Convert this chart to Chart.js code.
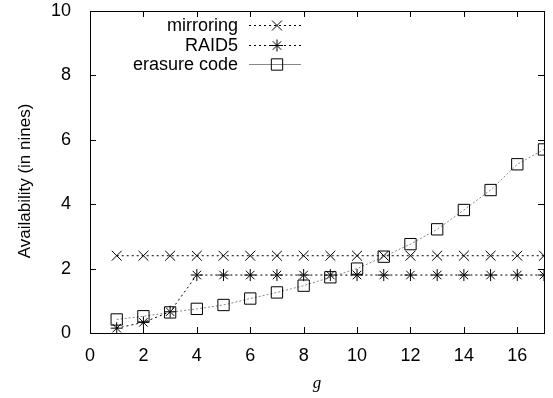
<!DOCTYPE html>
<html>
<head>
<meta charset="utf-8">
<script src="https://cdn.jsdelivr.net/npm/chart.js@4/dist/chart.umd.min.js"></script>
<style>
  html, body { margin: 0; padding: 0; background: #fff; }
  #wrap { width: 553px; height: 398px; }
</style>
</head>
<body>
<div id="wrap"><canvas id="c" width="553" height="398"></canvas></div>
<script>
// availability vs g, three schemes
const gValues = [1, 2, 3, 4, 5, 6, 7, 8, 9, 10, 11, 12, 13, 14, 15, 16, 17];
const mirroring = [2.4, 2.4, 2.4, 2.4, 2.4, 2.4, 2.4, 2.4, 2.4, 2.4, 2.4, 2.4, 2.4, 2.4, 2.4, 2.4, 2.4];
const raid5 = [0.15, 0.33, 0.66, 1.8, 1.8, 1.8, 1.8, 1.8, 1.8, 1.8, 1.8, 1.8, 1.8, 1.8, 1.8, 1.8, 1.8];
const erasureCode = [0.42, 0.52, 0.64, 0.75, 0.87, 1.07, 1.26, 1.47, 1.73, 2.0, 2.37, 2.76, 3.22, 3.82, 4.44, 5.24, 5.7];
const xTicks = [0, 2, 4, 6, 8, 10, 12, 14, 16];
const yTicks = [0, 2, 4, 6, 8, 10];
const yTitle = 'Availability (in nines)';

const FONT = '"Liberation Sans", Arial, Helvetica, sans-serif';

const toPoints = (ys) => gValues.map((g, i) => ({ x: g, y: ys[i] }));

// inward ticks on all four sides, plus border, plus y title
const frame = {
    id: 'frame',
    afterDraw(chart) {
        const { ctx, chartArea: a, scales } = chart;
        ctx.save();
        ctx.strokeStyle = '#000';
        ctx.lineWidth = 1;
        ctx.beginPath();
        xTicks.forEach(v => {
            const x = Math.round(scales.x.getPixelForValue(v)) + 0.5;
            ctx.moveTo(x, a.bottom); ctx.lineTo(x, a.bottom - 6);
            ctx.moveTo(x, a.top); ctx.lineTo(x, a.top + 6);
        });
        yTicks.forEach(v => {
            const y = Math.round(scales.y.getPixelForValue(v)) + 0.5;
            ctx.moveTo(a.left, y); ctx.lineTo(a.left + 6, y);
            ctx.moveTo(a.right, y); ctx.lineTo(a.right - 6, y);
        });
        ctx.stroke();
        ctx.strokeRect(Math.round(a.left) + 0.5, Math.round(a.top) + 0.5,
            Math.round(a.right - a.left), Math.round(a.bottom - a.top));

        ctx.translate(25, 181);
        ctx.rotate(-Math.PI / 2);
        ctx.font = '17px ' + FONT;
        ctx.fillStyle = '#000';
        ctx.textAlign = 'center';
        ctx.textBaseline = 'middle';
        ctx.fillText(yTitle, 0, 0);
        ctx.restore();
    }
};

// gnuplot style legend: text right aligned, then sample line with marker
const keyBox = {
    id: 'keyBox',
    afterDraw(chart) {
        const { ctx } = chart;
        const drawPoint = Chart.helpers.drawPoint;
        ctx.save();
        ctx.font = '18px ' + FONT;
        ctx.textAlign = 'right';
        ctx.textBaseline = 'middle';
        chart.data.datasets.forEach((ds, i) => {
            const y = 25 + i * 19.7;
            ctx.fillStyle = '#000';
            ctx.fillText(ds.label, 238, y + 1);
            ctx.strokeStyle = ds.borderColor;
            ctx.lineWidth = ds.borderWidth;
            ctx.setLineDash(ds.keyDash);
            ctx.beginPath();
            ctx.moveTo(249, Math.round(y) + 0.5); ctx.lineTo(301, Math.round(y) + 0.5);
            ctx.stroke();
            ctx.setLineDash([]);
            ctx.strokeStyle = ds.pointBorderColor;
            ctx.fillStyle = 'rgba(0,0,0,0)';
            ctx.lineWidth = ds.pointBorderWidth;
            drawPoint(ctx, { pointStyle: ds.pointStyle, radius: ds.pointRadius, borderWidth: ds.pointBorderWidth, rotation: 0 }, 277, Math.round(y) + 0.5);
        });
        ctx.restore();
    }
};

new Chart(document.getElementById('c'), {
    type: 'scatter',
    data: {
        datasets: [
            {
                label: 'mirroring',
                data: toPoints(mirroring),
                showLine: true,
                borderColor: '#000',
                borderWidth: 1,
                borderDash: [2, 3],
                keyDash: [2, 3],
                pointStyle: 'crossRot',
                pointRadius: 7,
                pointBorderColor: '#000',
                pointBorderWidth: 1,
                pointBackgroundColor: 'transparent'
            },
            {
                label: 'RAID5',
                data: toPoints(raid5),
                showLine: true,
                borderColor: '#000',
                borderWidth: 1,
                borderDash: [2, 3],
                keyDash: [2, 3],
                pointStyle: 'star',
                pointRadius: 6,
                pointBorderColor: '#000',
                pointBorderWidth: 1,
                pointBackgroundColor: 'transparent'
            },
            {
                label: 'erasure code',
                data: toPoints(erasureCode),
                showLine: true,
                borderColor: '#888',
                borderWidth: 1,
                borderDash: [2, 2],
                keyDash: [],
                pointStyle: 'rect',
                pointRadius: 8,
                pointBorderColor: '#000',
                pointBorderWidth: 1,
                pointBackgroundColor: 'transparent'
            }
        ]
    },
    options: {
        responsive: false,
        animation: false,
        layout: { padding: { top: 0, right: 6, left: 0, bottom: 0 } },
        plugins: {
            legend: { display: false },
            tooltip: { enabled: false }
        },
        scales: {
            x: {
                type: 'linear',
                min: 0,
                max: 17,
                afterBuildTicks: (s) => { s.ticks = xTicks.map(v => ({ value: v })); },
                afterFit: (s) => { s.height = 65; },
                grid: { display: false },
                border: { display: false },
                ticks: { color: '#000', font: { family: FONT, size: 18 }, padding: 4, maxRotation: 0 },
                title: {
                    display: true,
                    text: 'g',
                    color: '#000',
                    font: { family: '"Liberation Serif", "Times New Roman", serif', size: 17, style: 'italic' },
                    padding: { top: 6 }
                }
            },
            y: {
                min: 0,
                max: 10,
                afterBuildTicks: (s) => { s.ticks = yTicks.map(v => ({ value: v })); },
                afterFit: (s) => { s.width = 90; s.paddingTop = 11; s.paddingBottom = 0; },
                grid: { display: false },
                border: { display: false },
                ticks: { color: '#000', font: { family: FONT, size: 18 }, padding: 11 }
            }
        }
    },
    plugins: [frame, keyBox]
});
</script>
</body>
</html>
